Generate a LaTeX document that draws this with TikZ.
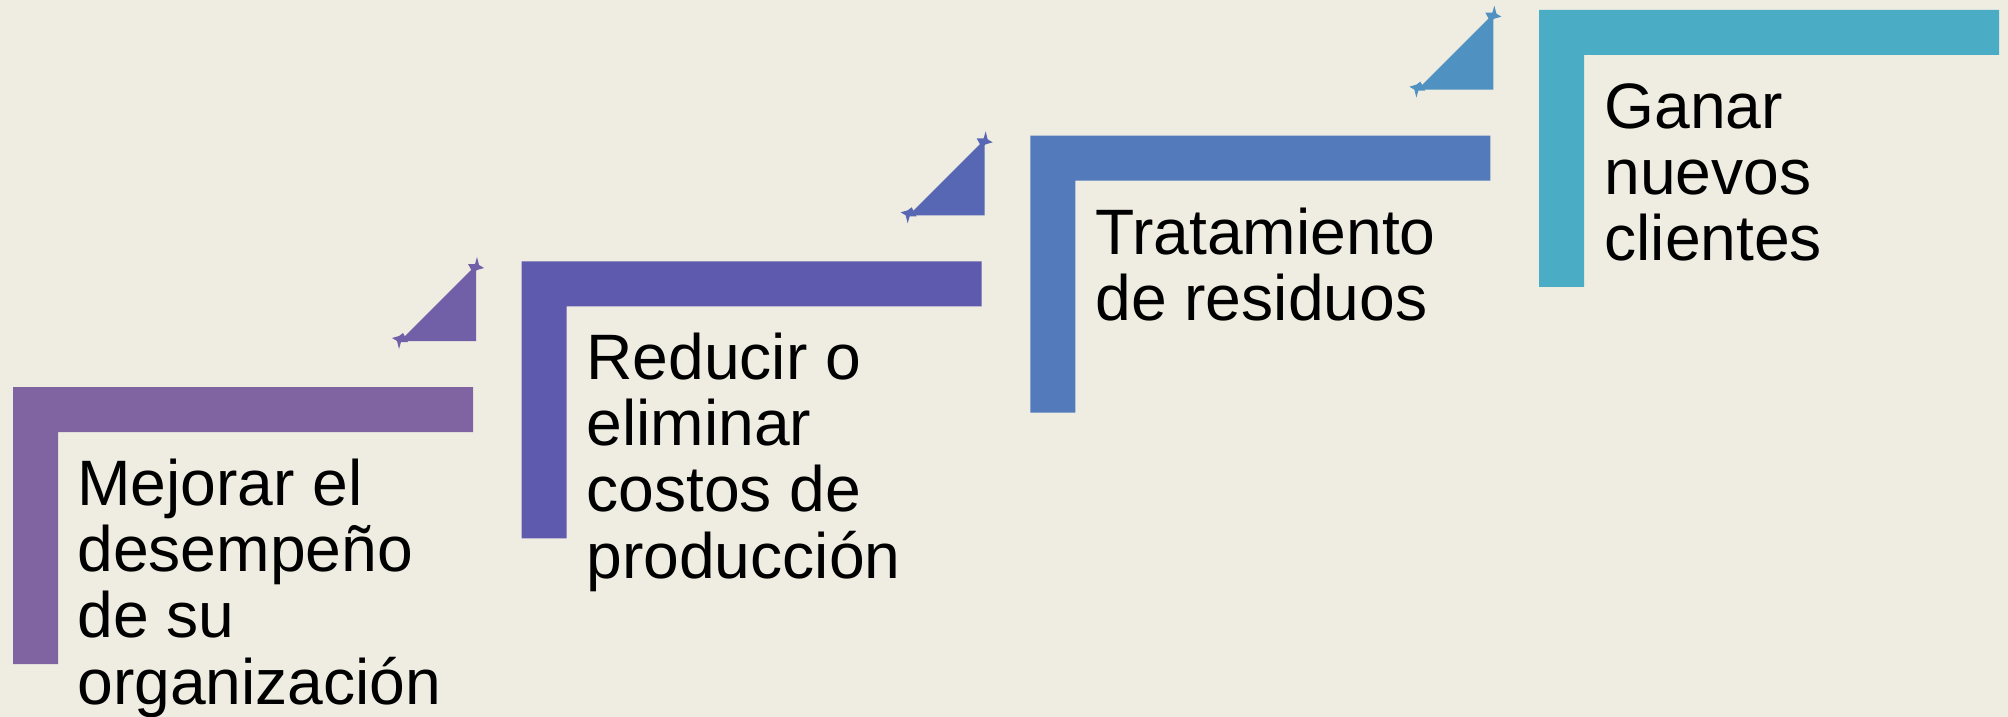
\documentclass[tikz,border=0pt]{standalone}
\usepackage{fontspec}
\setmainfont{Liberation Sans}
\definecolor{bg}{HTML}{EFEDE2}
\definecolor{c1}{HTML}{8064A2}
\definecolor{c2}{HTML}{5E5BAE}
\definecolor{c3}{HTML}{537ABA}
\definecolor{c4}{HTML}{4BACC6}
\definecolor{t1}{HTML}{7160A8}
\definecolor{t2}{HTML}{5767B4}
\definecolor{t3}{HTML}{4F91C0}
\begin{document}
\begin{tikzpicture}[x=0.5pt,y=-0.5pt,
  steptext/.style={anchor=base west, inner sep=0pt, font=\fontsize{32.1}{33.2}\selectfont},
  tipmark/.style={fill=#1}]
\fill[bg] (0,0) rectangle (2008,717);
\useasboundingbox (0,0) rectangle (2008,717);
% L-shaped step frames
\foreach \i/\col in {0/c1,1/c2,2/c3,3/c4}{
  \pgfmathsetmacro\ox{13+508.67*\i}
  \pgfmathsetmacro\oy{387-125.67*\i}
  \fill[\col] (\ox,\oy) -- ++(460,0) -- ++(0,45) -- ++(-415,0) -- ++(0,232) -- ++(-45,0) -- cycle;
}
% triangles between steps
\foreach \i/\col in {0/t1,1/t2,2/t3}{
  \pgfmathsetmacro\ox{13+508.67*\i}
  \pgfmathsetmacro\oy{387-125.67*\i}
  \fill[\col] (\ox+387,\oy-46) -- (\ox+463,\oy-46) -- (\ox+463,\oy-122) -- cycle;
  \fill[tipmark=\col, shift={(\ox+388,\oy-47)}] (7,2) -- (0,2) -- (-2,9) -- (-4,1) -- (-9,-2) -- (-2,-4) -- (2,-7) -- cycle;
  \fill[tipmark=\col, shift={(\ox+462,\oy-121)}] (-7,-2) -- (0,-2) -- (2,-9) -- (4,-1) -- (9,2) -- (2,4) -- (-2,7) -- cycle;
}
\node[steptext] (s1) at (77,505) {\vtop{\hbox{Mejorar el}\hbox{desempeño}\hbox{de su}\hbox{organización}}};
\node[steptext] (s2) at (586,379) {\vtop{\hbox{Reducir o}\hbox{eliminar}\hbox{costos de}\hbox{producción}}};
\node[steptext] (s3) at (1095,254) {\vtop{\hbox{Tratamiento}\hbox{de residuos}}};
\node[steptext] (s4) at (1604,128) {\vtop{\hbox{Ganar}\hbox{nuevos}\hbox{clientes}}};
\end{tikzpicture}
\end{document}
